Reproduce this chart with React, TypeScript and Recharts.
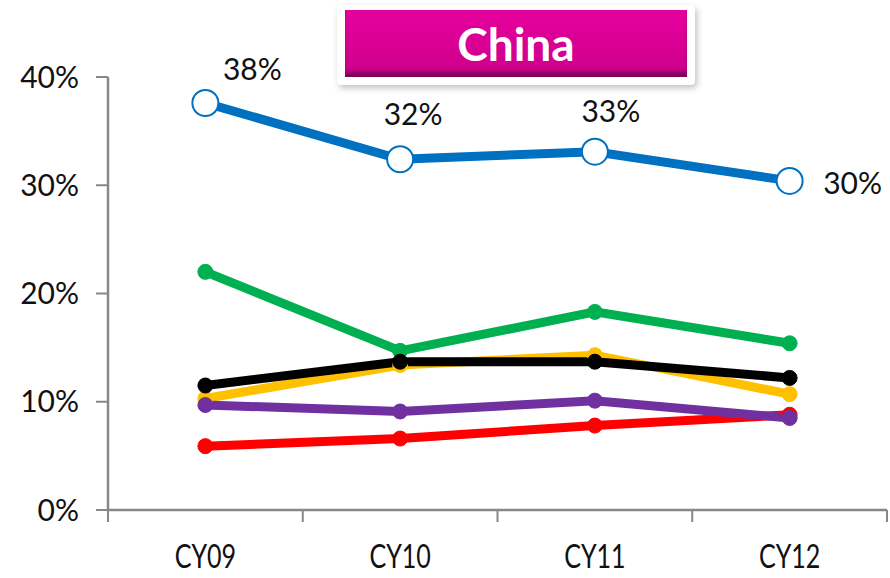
import React from 'react';
import { LineChart, Line, XAxis, YAxis } from 'recharts';

const years = ['CY09', 'CY10', 'CY11', 'CY12'];
const blueSeries = [37.6, 32.4, 33.1, 30.4];
const greenSeries = [22.0, 14.7, 18.3, 15.4];
const blackSeries = [11.5, 13.7, 13.7, 12.2];
const yellowSeries = [10.3, 13.4, 14.3, 10.7];
const purpleSeries = [9.7, 9.1, 10.1, 8.5];
const redSeries = [5.9, 6.6, 7.8, 8.8];
const yTicks = [0, 10, 20, 30, 40];

const W = 890;
const H = 578;
const PLOT_LEFT = 108;
const PLOT_RIGHT = 887;
const PLOT_TOP = 77;
const PLOT_BOTTOM = 510;
const BAND = (PLOT_RIGHT - PLOT_LEFT) / years.length;
const AXIS = '#878787';
const FONT = 'Lato, "Open Sans", sans-serif';

const data = years.map((year, i) => ({
  year,
  blue: blueSeries[i],
  green: greenSeries[i],
  black: blackSeries[i],
  yellow: yellowSeries[i],
  purple: purpleSeries[i],
  red: redSeries[i],
}));

// offsets of the % labels from each blue marker
const labelOffsets = [
  { dx: 47, dy: -31 },
  { dx: 13, dy: -42 },
  { dx: 16, dy: -37 },
  { dx: 63, dy: 5 },
];

const CategoryTick = (props: any) => {
  const { x, y, payload, index, visibleTicksCount } = props;
  const half = BAND / 2;
  return (
    <g>
      <line x1={x - half} y1={y} x2={x - half} y2={y + 12} stroke={AXIS} strokeWidth={2} />
      {index === visibleTicksCount - 1 && (
        <line x1={x + half} y1={y} x2={x + half} y2={y + 12} stroke={AXIS} strokeWidth={2} />
      )}
      <text
        transform={`translate(${x},${y + 50}) scale(0.76,1)`}
        textAnchor="middle"
        dominantBaseline="middle"
        fontFamily={FONT}
        fontSize={33}
        fill="#111"
      >
        {payload.value}
      </text>
    </g>
  );
};

const BlueLabel = (props: any) => {
  const { x, y, value, index } = props;
  const off = labelOffsets[index] || { dx: 0, dy: -30 };
  return (
    <text
      x={x + off.dx}
      y={y + off.dy}
      textAnchor="middle"
      dominantBaseline="middle"
      fontFamily={FONT}
      fontSize={30}
      fill="#111"
    >
      {`${Math.round(value)}%`}
    </text>
  );
};

const App: React.FC = () => {
  const thick = 9;
  const dot = (c: string) => ({ r: 7.5, fill: c, stroke: c, strokeWidth: 1 });
  return (
    <div style={{ position: 'absolute', left: 0, top: 0, width: W, height: H, background: '#fff' }}>
      <LineChart
        width={W}
        height={H}
        data={data}
        margin={{ top: PLOT_TOP, right: W - PLOT_RIGHT, bottom: 0, left: 0 }}
      >
        <XAxis
          dataKey="year"
          scale="band"
          height={H - PLOT_BOTTOM}
          tickSize={0}
          tickMargin={0}
          tickLine={false}
          axisLine={{ stroke: AXIS, strokeWidth: 2.5 }}
          tick={<CategoryTick />}
          interval={0}
        />
        <YAxis
          width={PLOT_LEFT}
          domain={[0, 40]}
          ticks={yTicks}
          tickFormatter={(v) => `${v}%`}
          tickSize={12}
          tickMargin={17}
          axisLine={{ stroke: AXIS, strokeWidth: 2.5 }}
          tickLine={{ stroke: AXIS, strokeWidth: 2 }}
          tick={{ fontFamily: FONT, fontSize: 30, fill: '#111' }}
        />
        <Line dataKey="red" stroke="#FF0000" strokeWidth={thick} dot={dot('#FF0000')} isAnimationActive={false} />
        <Line dataKey="yellow" stroke="#FFC000" strokeWidth={thick} dot={dot('#FFC000')} isAnimationActive={false} />
        <Line dataKey="purple" stroke="#7030A0" strokeWidth={thick} dot={dot('#7030A0')} isAnimationActive={false} />
        <Line dataKey="green" stroke="#00B050" strokeWidth={thick} dot={dot('#00B050')} isAnimationActive={false} />
        <Line dataKey="black" stroke="#000000" strokeWidth={thick} dot={dot('#000000')} isAnimationActive={false} />
        <Line
          dataKey="blue"
          stroke="#0070C0"
          strokeWidth={thick}
          dot={{ r: 13, fill: '#fff', stroke: '#0070C0', strokeWidth: 2 }}
          label={<BlueLabel />}
          isAnimationActive={false}
        />
      </LineChart>
      <div
        style={{
          position: 'absolute',
          left: 337,
          top: 5,
          width: 358,
          height: 80,
          background: '#fff',
          borderRadius: 4,
          boxShadow: '2px 3px 6px rgba(0,0,0,0.25)',
        }}
      >
        <div
          style={{
            position: 'absolute',
            left: 8,
            top: 5,
            width: 342,
            height: 67,
            background: 'linear-gradient(#E6009E, #D0008C 85%, #96006A)',
            boxShadow: 'inset 0 -4px 3px rgba(80,0,50,0.4)',
            color: '#fff',
            fontFamily: FONT,
            fontWeight: 700,
            fontSize: 46,
            display: 'flex',
            alignItems: 'center',
            justifyContent: 'center',
          }}
        >
          China
        </div>
      </div>
    </div>
  );
};

export default App;
